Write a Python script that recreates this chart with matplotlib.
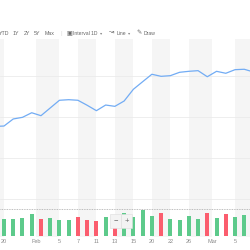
import numpy as np
import matplotlib
matplotlib.use("Agg")
import matplotlib.pyplot as plt

plt.rcParams['font.family'] = ['Liberation Sans', 'DejaVu Sans']

# daily closes, first value is the session before the first volume bar
close = [163.85, 163.90, 164.76, 164.96, 165.52, 165.16, 166.10, 167.04, 167.11,
         167.04, 166.43, 165.77, 166.46, 166.30, 166.95, 168.38, 169.30, 170.21,
         169.96, 170.04, 170.45, 170.57, 170.65, 169.91, 170.57, 170.33, 170.77,
         170.82, 170.49]
# daily volume (millions)
volume = [25.5, 26.0, 26.5, 32.5, 25.0, 27.5, 24.5, 24.5, 28.5, 24.0, 22.0, 28.0,
          25.5, 34.5, 28.5, 38.5, 30.5, 34.0, 25.0, 24.5, 30.5, 25.5, 34.5, 27.5,
          32.5, 28.5, 31.0]
vol_ref = 40.5

tick_labels = ['20', 'Feb', '5', '7', '11', '13', '15', '20', '22', '26', 'Mar', '5']
tick_at = [0, 3.5, 6, 8, 10, 12, 14, 16, 18, 20, 22.5, 25]
month_ticks = [3.5, 22.5]

toolbar = ['YTD', '1Y', '2Y', '5Y', 'Max']

fig = plt.figure(figsize=(2.5, 2.5), dpi=100)
ax = fig.add_axes([0, 0.052, 1, 0.792])

x_line = np.arange(-1, len(close) - 1)
x_bar = np.arange(len(volume))

# alternating background bands between date labels
edges = [-5] + tick_at + [40]
for i in range(0, len(edges) - 1, 2):
    ax.axvspan(edges[i], edges[i + 1], color='#f5f5f5', lw=0, zorder=0)

ax.plot(x_line, close, color='#72acf4', lw=0.9, zorder=3)
ax.set_xlim(-0.433, 26.62)
ax.set_ylim(150.37, 174.51)
ax.set_yticks([155, 160, 165, 170])
ax.grid(axis='y', color='#ebebeb', lw=0.6)
ax.set_axisbelow(True)
ax.tick_params(axis='y', length=0, labelleft=False, labelright=False)
ax.set_xticks(tick_at)
ax.set_xticklabels(tick_labels, fontsize=4, color='#8a8a8a')
ax.tick_params(axis='x', length=0, pad=1.5)
ax.set_xticks(month_ticks, minor=True)
ax.tick_params(axis='x', which='minor', length=2.5, width=0.5, color='#cccccc')
for s in ax.spines.values():
    s.set_visible(False)

vax = ax.twinx()
colors = ['#5dca8b' if close[i + 1] >= close[i] else '#fb5d6e' for i in range(len(volume))]
vax.bar(x_bar, volume, width=0.43, color=colors, zorder=2)
vax.axhline(vol_ref, ls=(0, (1, 1)), color='#a8a8a8', lw=0.6)
vax.set_ylim(-1.5, 295.5)
vax.set_yticks([])
for s in vax.spines.values():
    s.set_visible(False)

# zoom buttons
for xf, sym in [(0.462, '\u2212'), (0.507, '+')]:
    fig.text(xf, 0.115, sym, fontsize=5.5, color='#666666', ha='center', va='center',
             bbox=dict(boxstyle='square,pad=0.45', fc='#f3f3f3', ec='#dddddd', lw=0.4))

# toolbar
ty = 1 - 33.3 / 250
tx = [0.016, 0.062, 0.106, 0.148, 0.2]
for x, t in zip(tx, toolbar):
    fig.text(x, ty, t, fontsize=3.8, color='#666666', ha='center', va='center')
fig.text(0.244, ty, '|', fontsize=4.5, color='#dddddd', ha='center', va='center')
fig.text(0.278, ty, '\u25a3', fontsize=4.5, color='#666666', ha='center', va='center',
         family='DejaVu Sans')
fig.text(0.292, ty, 'Interval 1D', fontsize=3.6, color='#666666', ha='left', va='center')
fig.text(0.404, ty, '\u25be', fontsize=3.2, color='#888888', ha='center', va='center',
         family='DejaVu Sans')
fig.text(0.446, ty, '\u219d', fontsize=4.5, color='#666666', ha='center', va='center',
         family='DejaVu Sans')
fig.text(0.466, ty, 'Line', fontsize=3.6, color='#666666', ha='left', va='center')
fig.text(0.516, ty, '\u25be', fontsize=3.2, color='#888888', ha='center', va='center',
         family='DejaVu Sans')
fig.text(0.556, ty, '\u270e', fontsize=4.5, color='#666666', ha='center', va='center',
         family='DejaVu Sans')
fig.text(0.576, ty, 'Draw', fontsize=3.6, color='#666666', ha='left', va='center')

fig.savefig('out.png', dpi=100, facecolor='white')
